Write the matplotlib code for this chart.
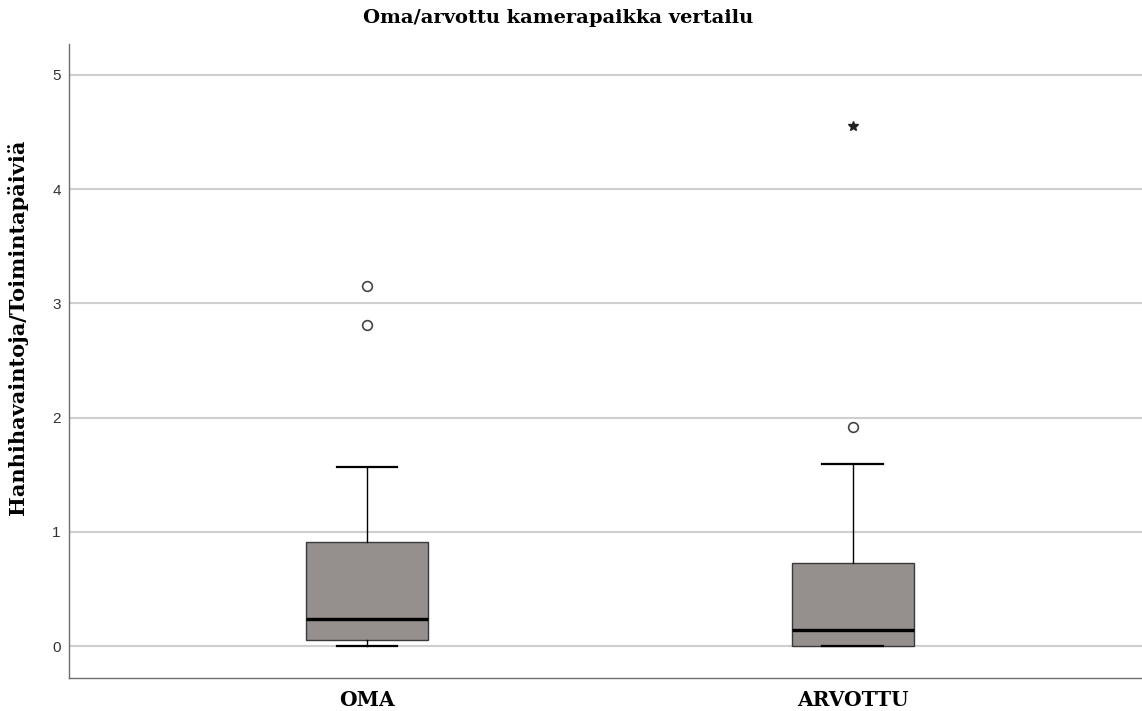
import matplotlib
matplotlib.use("Agg")
import matplotlib.pyplot as plt

# ---- data ----
categories = ["OMA", "ARVOTTU"]
whisker_low = [0.0, 0.0]
q1 = [0.053, 0.0]
median = [0.239, 0.137]
q3 = [0.913, 0.731]
whisker_high = [1.570, 1.597]
outliers = [[3.152, 2.811], [1.919]]
extremes = [[], [4.556]]
y_ticks = [0, 1, 2, 3, 4, 5]

title = "Oma/arvottu kamerapaikka vertailu"
ylabel = "Hanhihavaintoja/Toimintapäiviä"

SERIF = "DejaVu Serif"

fig = plt.figure(figsize=(11.42, 7.11), dpi=100)
ax = fig.add_axes([69 / 1142, 33 / 711, 1 - 69 / 1142, (678 - 44) / 711])

positions = list(range(1, len(categories) + 1))
stats = []
for i, cat in enumerate(categories):
    stats.append(dict(label=cat, whislo=whisker_low[i], q1=q1[i], med=median[i],
                      q3=q3[i], whishi=whisker_high[i], fliers=outliers[i]))

ax.bxp(stats, positions=positions, widths=0.251, patch_artist=True,
       capwidths=0.125,
       boxprops=dict(facecolor="#958f8d", edgecolor="#3a3a3a", linewidth=1.0),
       medianprops=dict(color="black", linewidth=2.4),
       whiskerprops=dict(color="black", linewidth=1.0),
       capprops=dict(color="black", linewidth=1.6),
       flierprops=dict(marker="o", markerfacecolor="none", markeredgecolor="#444444",
                       markersize=7, markeredgewidth=1.2, linestyle="none"),
       zorder=3)

for i, ext in enumerate(extremes):
    if ext:
        ax.plot([positions[i]] * len(ext), ext, linestyle="none", marker="*",
                color="#222222", markersize=7, zorder=4)

ax.set_xlim(0.387, 2.595)
ax.set_ylim(-0.28, 5.27)
ax.set_yticks(y_ticks)
ax.set_yticklabels([str(t) for t in y_ticks], family="Liberation Sans", fontsize=11,
                   color="#333333")
ax.yaxis.grid(True, color="#cfcfcf", linewidth=1.5, zorder=0)
ax.set_axisbelow(True)
ax.tick_params(axis="y", length=0, pad=6)
ax.tick_params(axis="x", length=0, pad=9)
ax.set_xticks(positions)
ax.set_xticklabels(categories, family=SERIF, fontweight="bold", fontsize=14.5)

for s in ["top", "right"]:
    ax.spines[s].set_visible(False)
for s in ["left", "bottom"]:
    ax.spines[s].set_color("#6e6e6e")
    ax.spines[s].set_linewidth(1.0)

fig.text(18 / 1142, 1 - 327 / 711, ylabel, rotation=90, ha="center", va="center",
         family=SERIF, fontweight="bold", fontsize=15)
fig.text(558 / 1142, 1 - 18 / 711, title, ha="center", va="center",
         family=SERIF, fontweight="bold", fontsize=14)

fig.savefig("out.png", dpi=100)
